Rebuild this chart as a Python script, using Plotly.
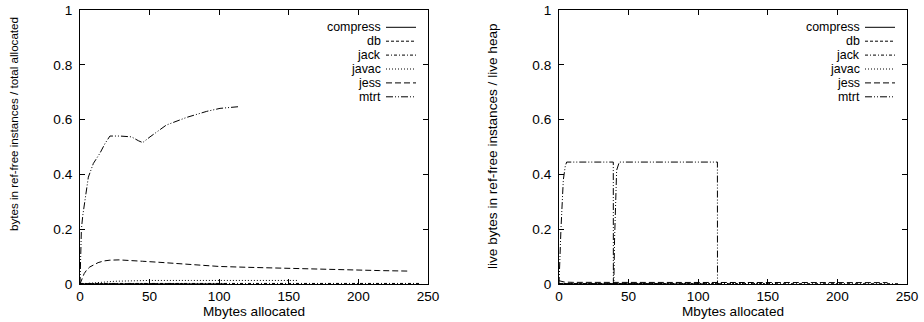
import plotly.graph_objects as go

# ---------------- data ----------------
benchmarks = ["compress", "db", "jack", "javac", "jess", "mtrt"]

# Left panel: bytes in ref-free instances / total allocated
L_compress_x = [0, 30, 60, 90, 105]
L_compress_y = [0.0005, 0.0005, 0.0005, 0.0005, 0.0005]
L_db_x = [0, 25, 50, 75]
L_db_y = [0.001, 0.001, 0.001, 0.001]
L_jack_x = [0, 50, 100, 150, 200, 245]
L_jack_y = [0.002, 0.002, 0.002, 0.002, 0.002, 0.002]
L_javac_x = [0, 8, 15, 25, 35, 50, 80, 110, 140, 157]
L_javac_y = [0, 0.002, 0.006, 0.01, 0.012, 0.013, 0.013, 0.013, 0.013, 0.013]
L_jess_x = [0, 1.5, 3, 4.8, 7, 9.6, 13, 17, 21.5, 28, 33.5, 45, 57.5, 70, 81,
            100, 120, 140, 163, 190, 215, 237]
L_jess_y = [0, 0.02, 0.038, 0.051, 0.062, 0.069, 0.078, 0.084, 0.087, 0.088,
            0.087, 0.083, 0.079, 0.074, 0.069, 0.064, 0.061, 0.058, 0.056,
            0.052, 0.049, 0.047]
L_mtrt_x = [0, 0.3, 1.0, 2.0, 3.6, 6, 9.6, 14.4, 18, 21.5, 28.7, 37, 41.9, 45,
            50.3, 62, 76.6, 91, 100.6, 110, 113.7]
L_mtrt_y = [0, 0.12, 0.2, 0.25, 0.307, 0.39, 0.44, 0.478, 0.513, 0.54, 0.54,
            0.537, 0.523, 0.516, 0.537, 0.58, 0.608, 0.63, 0.641, 0.647, 0.647]

# Right panel: live bytes in ref-free instances / live heap
R_compress_x = [0, 50, 105]
R_compress_y = [0.0005, 0.0005, 0.0005]
R_db_x = [0, 40, 75]
R_db_y = [0.001, 0.001, 0.001]
R_jack_x = [0, 100, 200, 245]
R_jack_y = [0.001, 0.001, 0.001, 0.001]
R_javac_x = [0, 50, 100, 157]
R_javac_y = [0.002, 0.002, 0.002, 0.002]
R_jess_x = [0, 2, 4, 10, 50, 100, 150, 200, 236]
R_jess_y = [0.012, 0.01, 0.007, 0.006, 0.006, 0.006, 0.005, 0.005, 0.005]
R_mtrt_x = [0, 0.3, 0.7, 1.4, 3.1, 4.5, 5.5, 20, 39, 39.05, 39.4, 39.9, 41.4,
            43.3, 70, 100, 113.8, 113.85]
R_mtrt_y = [0, 0.05, 0.12, 0.2, 0.38, 0.43, 0.445, 0.445, 0.445, 0.01, 0.0,
            0.16, 0.415, 0.445, 0.445, 0.445, 0.445, 0]

x_ticks = [0, 50, 100, 150, 200, 250]
y_ticks = [0, 0.2, 0.4, 0.6, 0.8, 1]
y_tick_labels = ["0", "0.2", "0.4", "0.6", "0.8", "1"]

x_title = "Mbytes allocated"
y_title_left = "bytes in ref-free instances / total allocated"
y_title_right = "live bytes in ref-free instances / live heap"

# ---------------- styles ----------------
dashes = {
    "compress": "solid",
    "db": "3px,2px",
    "jack": "3px,2px,1px,2px",
    "javac": "1px,2px",
    "jess": "6px,3px",
    "mtrt": "7px,2px,1px,2px,1px,2px",
}

W, H = 924, 322
FONT = "Liberation Sans"
FS = 13.6
FS_KEY = 12.4
FS_YL = 11.6

def px_x(p):
    return p / W

def px_y(p):
    return 1 - p / H

fig = go.Figure()

left = dict(compress=(L_compress_x, L_compress_y), db=(L_db_x, L_db_y),
            jack=(L_jack_x, L_jack_y), javac=(L_javac_x, L_javac_y),
            jess=(L_jess_x, L_jess_y), mtrt=(L_mtrt_x, L_mtrt_y))
right = dict(compress=(R_compress_x, R_compress_y), db=(R_db_x, R_db_y),
             jack=(R_jack_x, R_jack_y), javac=(R_javac_x, R_javac_y),
             jess=(R_jess_x, R_jess_y), mtrt=(R_mtrt_x, R_mtrt_y))

for name in benchmarks:
    x, y = left[name]
    fig.add_trace(go.Scatter(x=x, y=y, mode="lines", name=name, showlegend=False,
                             line=dict(color="black", width=1, dash=dashes[name]),
                             xaxis="x", yaxis="y"))
for name in benchmarks:
    x, y = right[name]
    fig.add_trace(go.Scatter(x=x, y=y, mode="lines", name=name, showlegend=False,
                             line=dict(color="black", width=1, dash=dashes[name]),
                             xaxis="x2", yaxis="y2"))

top_px, bot_px = 10, 284
panels = [(80, 428), (559, 907)]
ydom = [px_y(bot_px), px_y(top_px)]

axis_common = dict(
    showgrid=False, zeroline=False, showline=True, linecolor="black", linewidth=1,
    mirror="ticks", ticks="inside", ticklen=5, tickwidth=1, tickcolor="black",
    automargin=False,
    tickfont=dict(family=FONT, size=FS, color="black"),
)

layout = dict(
    width=W, height=H, margin=dict(l=0, r=0, t=0, b=0, autoexpand=False),
    paper_bgcolor="white", plot_bgcolor="white", showlegend=False,
    font=dict(family=FONT, size=FS, color="black"),
)
for i, (a, b) in enumerate(panels):
    sx = "" if i == 0 else "2"
    layout["xaxis" + sx] = dict(axis_common, domain=[px_x(a), px_x(b)], range=[0, 250],
                                tickvals=x_ticks, anchor="y" + sx)
    layout["yaxis" + sx] = dict(axis_common, domain=ydom, range=[0, 1],
                                tickvals=y_ticks, ticktext=y_tick_labels,
                                ticklabelstandoff=4, anchor="x" + sx)
fig.update_layout(**layout)

annotations = []
shapes = []
# axis titles
for (a, b) in panels:
    annotations.append(dict(text=x_title, x=px_x((a + b) / 2), y=px_y(311),
                            xref="paper", yref="paper", xanchor="center",
                            yanchor="middle", showarrow=False,
                            font=dict(family=FONT, size=FS, color="black")))
annotations.append(dict(text=y_title_left, x=px_x(13), y=px_y(124), textangle=-90,
                        xref="paper", yref="paper", xanchor="center", yanchor="middle",
                        showarrow=False, font=dict(family=FONT, size=FS_YL, color="black")))
annotations.append(dict(text=y_title_right, x=px_x(492), y=px_y(146), textangle=-90,
                        xref="paper", yref="paper", xanchor="center", yanchor="middle",
                        showarrow=False, font=dict(family=FONT, size=FS, color="black")))

# gnuplot-style keys (text right-aligned, sample on the right)
row0, step = 27.3, 13.9
for (a, b) in panels:
    text_right = b - 46
    s0, s1 = b - 42, b - 12
    for k, name in enumerate(benchmarks):
        yc = row0 + k * step
        annotations.append(dict(text=name, x=px_x(text_right), y=px_y(yc),
                                xref="paper", yref="paper", xanchor="right",
                                yanchor="middle", showarrow=False, borderpad=0,
                                font=dict(family=FONT, size=FS_KEY, color="black")))
        shapes.append(dict(type="line", xref="paper", yref="paper",
                           x0=px_x(s0), x1=px_x(s1), y0=px_y(yc), y1=px_y(yc),
                           line=dict(color="black", width=1, dash=dashes[name])))

fig.update_layout(annotations=annotations, shapes=shapes)
fig.write_html("out.html", config={"displayModeBar": False},
               post_script="document.body.style.margin='0';document.body.style.padding='0';")
